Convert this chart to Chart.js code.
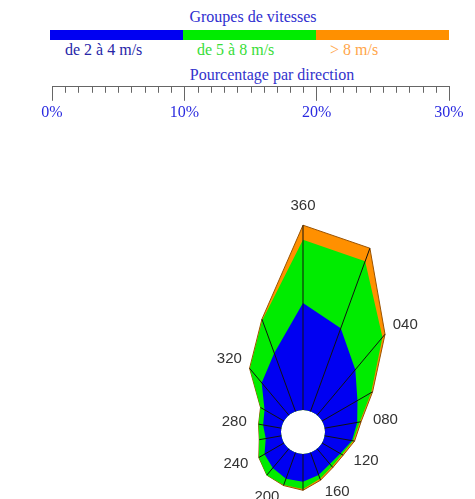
<!DOCTYPE html>
<html>
<head>
<meta charset="utf-8">
<script src="https://cdn.jsdelivr.net/npm/chart.js@4"></script>
<style>
  body { margin: 0; width: 475px; height: 499px; overflow: hidden; background: #fff; position: relative; }
  .txt { position: absolute; font-family: "Liberation Serif", serif; font-size: 16px; white-space: nowrap; line-height: 18px; }
  #bar { position: absolute; left: 50px; top: 30px; width: 399px; height: 10px; display: flex; }
  #bar div { flex: 1; }
  #ruler { position: absolute; left: 0; top: 38px; }
  #rose { position: absolute; left: 53px; top: 182px; }
</style>
</head>
<body>
<div class="txt" id="title" style="left:253px; top:8px; transform:translateX(-50%); color:#2e2ed0;"></div>
<div id="bar"></div>
<div class="txt" id="g0" style="left:65px; top:41px; color:#2626a8;"></div>
<div class="txt" id="g1" style="left:197px; top:41px; color:#38dd38;"></div>
<div class="txt" id="g2" style="left:330px; top:41px; color:#ffa64a;"></div>
<div class="txt" id="axisTitle" style="left:272px; top:66px; transform:translateX(-50%); color:#3333cc;"></div>
<canvas id="ruler" width="475" height="86"></canvas>
<canvas id="rose" width="500" height="500"></canvas>
<script>
    // wind rose data, percent per direction for each speed group
    const directions = ["360", "020", "040", "060", "080", "100", "120", "140", "160",
        "180", "200", "220", "240", "260", "280", "300", "320", "340"];
    const speedGroups = ["de 2 à 4 m/s", "de 5 à 8 m/s", "> 8 m/s"];
    const slow = [8.1, 6.7, 4.5, 3.1, 2.5, 2.1, 1.6, 1.5, 1.8, 2.1, 2.1, 1.9, 1.7, 1.2, 1.4, 1.7, 3.2, 4.7];
    const medium = [4.8, 5.4, 3.2, 1.2, 0.2, 0.1, 0.15, 0.25, 0.3, 0.55, 0.5, 0.7, 0.5, 0.5, 0.35, 0.35, 1.4, 2.65];
    const fast = [1.1, 1.05, 0.3, 0.12, 0.1, 0.1, 0.1, 0.1, 0.12, 0.1, 0.05, 0, 0, 0, 0, 0, 0.03, 0.08];
    const rulerTicks = [0, 10, 20, 30];

    const groupColors = ["#0000f2", "#00ec00", "#ff9000"];

    document.getElementById("title").textContent = "Groupes de vitesses";
    document.getElementById("axisTitle").textContent = "Pourcentage par direction";
    const bar = document.getElementById("bar");
    speedGroups.forEach((g, i) => {
        document.getElementById("g" + i).textContent = g;
        const d = document.createElement("div");
        d.style.background = groupColors[i];
        bar.appendChild(d);
    });

    // stacked totals for the rose
    const lvl1 = slow.slice();
    const lvl2 = slow.map((v, i) => v + medium[i]);
    const lvl3 = lvl2.map((v, i) => v + fast[i]);

    // ruler: scale 0..30 %
    const minorTicks = {
        id: "minorTicks",
        afterDraw(chart) {
            const sc = chart.scales.x;
            const c = chart.ctx;
            c.save();
            c.strokeStyle = "#666";
            c.lineWidth = 1;
            sc.ticks.forEach(t => {
                if (rulerTicks.includes(t.value)) return;
                const x = Math.round(sc.getPixelForValue(t.value)) + 0.5;
                c.beginPath();
                c.moveTo(x, sc.top);
                c.lineTo(x, sc.top + 6);
                c.stroke();
            });
            c.restore();
        }
    };

    new Chart(document.getElementById("ruler"), {
        type: "scatter",
        data: { datasets: [] },
        options: {
            responsive: false,
            animation: false,
            layout: { padding: { left: 52, right: 26, top: 0, bottom: 0 } },
            plugins: { legend: { display: false }, tooltip: { enabled: false } },
            scales: {
                y: { display: false },
                x: {
                    type: "linear",
                    position: "bottom",
                    min: 0,
                    max: 30,
                    border: { display: true, color: "#666" },
                    grid: {
                        drawOnChartArea: false,
                        tickLength: 14,
                        tickColor: c => rulerTicks.includes(c.tick.value) ? "#666" : "rgba(0,0,0,0)",
                    },
                    ticks: {
                        stepSize: 1,
                        autoSkip: false,
                        maxRotation: 0,
                        padding: 2,
                        color: "#2a2ae0",
                        font: { family: "Liberation Serif", size: 16 },
                        callback: v => rulerTicks.includes(v) ? v + "%" : "",
                    },
                },
            },
        },
        plugins: [minorTicks],
    });

    // spokes from the hole to each outer vertex, and direction labels
    const roseExtras = {
        id: "roseExtras",
        afterDatasetsDraw(chart) {
            const sc = chart.scales.r;
            const c = chart.ctx;
            c.save();
            c.strokeStyle = "#111";
            c.lineWidth = 1;
            lvl3.forEach((v, i) => {
                const a = sc.getPointPositionForValue(i, 0);
                const b = sc.getPointPositionForValue(i, v);
                c.beginPath();
                c.moveTo(a.x, a.y);
                c.lineTo(b.x, b.y);
                c.stroke();
            });
            c.font = "15px 'Liberation Sans', Arial, sans-serif";
            c.fillStyle = "#333";
            directions.forEach((d, i) => {
                if (i % 2) return;
                const p = sc.getPointPositionForValue(i, lvl3[i]);
                const ang = sc.getIndexAngle(i) - Math.PI / 2;
                const x = p.x + Math.cos(ang) * 12;
                const y = p.y + Math.sin(ang) * 12;
                const deg = i * 20;
                c.textAlign = deg === 0 || deg === 180 ? "center" : (deg < 180 ? "left" : "right");
                c.textBaseline = deg === 0 ? "bottom" : (deg === 180 ? "top" : "middle");
                c.fillText(d, x, y);
            });
            c.restore();
        }
    };

    const holePct = 22 / 13.2;
    const maxPct = (250 - 22) / 13.2;

    new Chart(document.getElementById("rose"), {
        type: "radar",
        data: {
            labels: directions,
            datasets: [
                { label: speedGroups[0], data: lvl1, backgroundColor: groupColors[0], borderWidth: 0, fill: "origin" },
                { label: speedGroups[1], data: lvl2, backgroundColor: groupColors[1], borderWidth: 0, fill: "origin" },
                { label: speedGroups[2], data: lvl3, backgroundColor: groupColors[2], borderColor: "#9a5200", borderWidth: 1, fill: "origin" },
            ],
        },
        options: {
            responsive: false,
            animation: false,
            layout: { padding: 0 },
            elements: { point: { radius: 0 }, line: { tension: 0 } },
            plugins: { legend: { display: false }, tooltip: { enabled: false } },
            scales: {
                r: {
                    min: -holePct,
                    max: maxPct,
                    ticks: { display: false },
                    grid: { display: false, circular: true },
                    angleLines: { display: false },
                    pointLabels: { display: false },
                },
            },
        },
        plugins: [roseExtras],
    });
</script>
</body>
</html>
